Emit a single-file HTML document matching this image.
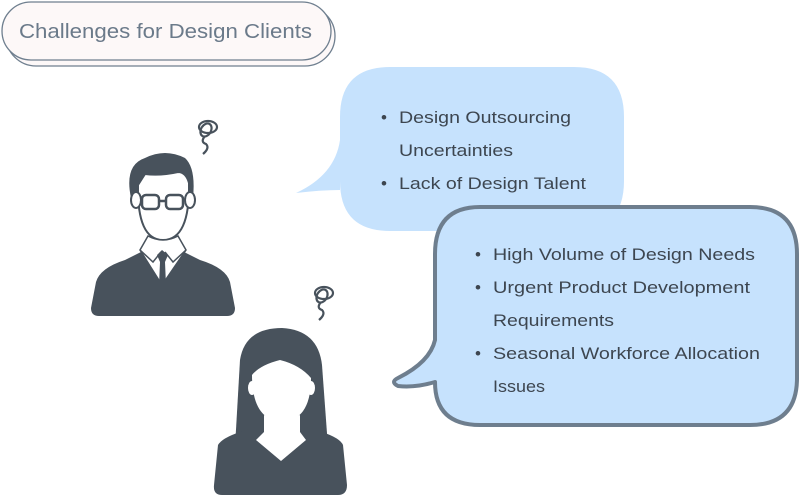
<!DOCTYPE html>
<html><head><meta charset="utf-8"><style>
html,body{margin:0;padding:0;background:#fff;}
svg{display:block;}
text{font-family:"Liberation Sans",sans-serif;}
</style></head><body>
<svg width="800" height="497" viewBox="0 0 800 497" xmlns="http://www.w3.org/2000/svg">
<!-- title -->
<rect x="6" y="6" width="329" height="60" rx="30" fill="#fdf8f8" stroke="#6f7f8f" stroke-width="1.3"/>
<rect x="2" y="2" width="329" height="58" rx="29" fill="#fdf8f8" stroke="#6f7f8f" stroke-width="1.3"/>
<text x="19" y="38" font-size="20" fill="#6b7a8a" textLength="293" lengthAdjust="spacingAndGlyphs">Challenges for Design Clients</text>

<!-- bubble 1 -->
<path d="M390 67 H574 Q624 67 624 117 V181 Q624 231 574 231 H390 Q340 231 340 181 V190 Q320 190 296 193 Q335 175 340 140 V117 Q340 67 390 67 Z" fill="#c6e2fd"/>
<g font-size="17" fill="#3d4650" lengthAdjust="spacingAndGlyphs">
<text x="381" y="123">•</text><text x="399" y="123" textLength="172" lengthAdjust="spacingAndGlyphs">Design Outsourcing</text>
<text x="399" y="156" textLength="114" lengthAdjust="spacingAndGlyphs">Uncertainties</text>
<text x="381" y="189">•</text><text x="399" y="189" textLength="187" lengthAdjust="spacingAndGlyphs">Lack of Design Talent</text>
</g>

<!-- bubble 2 -->
<path d="M480 207 H750 Q797 207 797 254 V378 Q797 425 750 425 H480 Q435 425 435 382 Q415 388 398 386 Q390 382 398 378 Q430 362 435 340 V254 Q435 207 480 207 Z" fill="#c6e2fd" stroke="#6e7e8e" stroke-width="4" stroke-linejoin="round"/>
<g font-size="17" fill="#3d4650">
<text x="475" y="260">•</text><text x="493" y="260" textLength="262" lengthAdjust="spacingAndGlyphs">High Volume of Design Needs</text>
<text x="475" y="293">•</text><text x="493" y="293" textLength="257" lengthAdjust="spacingAndGlyphs">Urgent Product Development</text>
<text x="493" y="326" textLength="121" lengthAdjust="spacingAndGlyphs">Requirements</text>
<text x="475" y="359">•</text><text x="493" y="359" textLength="267" lengthAdjust="spacingAndGlyphs">Seasonal Workforce Allocation</text>
<text x="493" y="392" textLength="52" lengthAdjust="spacingAndGlyphs">Issues</text>
</g>

<!-- man -->
<g fill="#48525c">
<path d="M96 282 Q100 268 125 260 L145 250 L180 250 L200 260 Q226 268 230 282 L235 308 Q235 316 227 316 H99 Q91 316 91 308 Z"/>
<path d="M131 198 Q124 165 145 158 Q165 148 185 158 Q196 168 193 198 Z"/>
</g>
<path d="M138 185 Q137 240 163 240 Q190 240 189 183 Q186 172 178 172 Q160 176 145 174 Z" fill="#fff" stroke="#48525c" stroke-width="2"/>
<ellipse cx="136" cy="200" rx="5" ry="8" fill="#fff" stroke="#48525c" stroke-width="2"/>
<ellipse cx="190" cy="200" rx="5" ry="8" fill="#fff" stroke="#48525c" stroke-width="2"/>
<rect x="142" y="195" width="17" height="14" rx="4" fill="none" stroke="#48525c" stroke-width="2.5"/>
<rect x="166" y="195" width="17" height="14" rx="4" fill="none" stroke="#48525c" stroke-width="2.5"/>
<line x1="159" y1="201" x2="166" y2="201" stroke="#48525c" stroke-width="2.5"/>
<path d="M148 236 L140 250 L162 285 L186 250 L178 236 Q163 244 148 236 Z" fill="#fff" stroke="#48525c" stroke-width="1.5"/>
<path d="M157 255 L162 250 L168 255 L165 262 L166 285 L159 285 L160 262 Z" fill="#48525c"/>
<path d="M140 250 L153 262 L161 252 M186 250 L173 262 L165 252" fill="none" stroke="#48525c" stroke-width="1.5"/>

<!-- woman -->
<g fill="#48525c">
<path d="M240 360 Q245 328 282 328 Q318 330 322 365 L328 447 H235 Z"/>
<path d="M218 445 Q222 438 240 432 L262 425 L300 425 L322 432 Q340 438 343 445 L347 485 Q347 495 338 495 H222 Q213 495 214 485 Z"/>
</g>
<path d="M252 375 Q260 365 280 360 Q300 365 311 378 Q311 420 282 422 Q252 420 252 375 Z" fill="#fff"/>
<ellipse cx="252" cy="388" rx="4" ry="7" fill="#fff"/>
<ellipse cx="311" cy="388" rx="4" ry="7" fill="#fff"/>
<path d="M264 415 Q282 424 300 415 L300 432 L306 440 L281 461 L256 440 L264 432 Z" fill="#fff"/>

<!-- scribbles -->
<g fill="none" stroke="#48525c" stroke-width="2.2">
<ellipse cx="208" cy="127" rx="9" ry="6"/>
<ellipse cx="206" cy="130" rx="5" ry="7" transform="rotate(30 206 130)"/>
<path d="M205 136 Q200 142 206 144 Q210 148 203 154"/>
<ellipse cx="324" cy="293" rx="9" ry="6"/>
<ellipse cx="322" cy="296" rx="5" ry="7" transform="rotate(30 322 296)"/>
<path d="M321 302 Q316 308 322 310 Q326 314 319 320"/>
</g>
</svg>
</body></html>
